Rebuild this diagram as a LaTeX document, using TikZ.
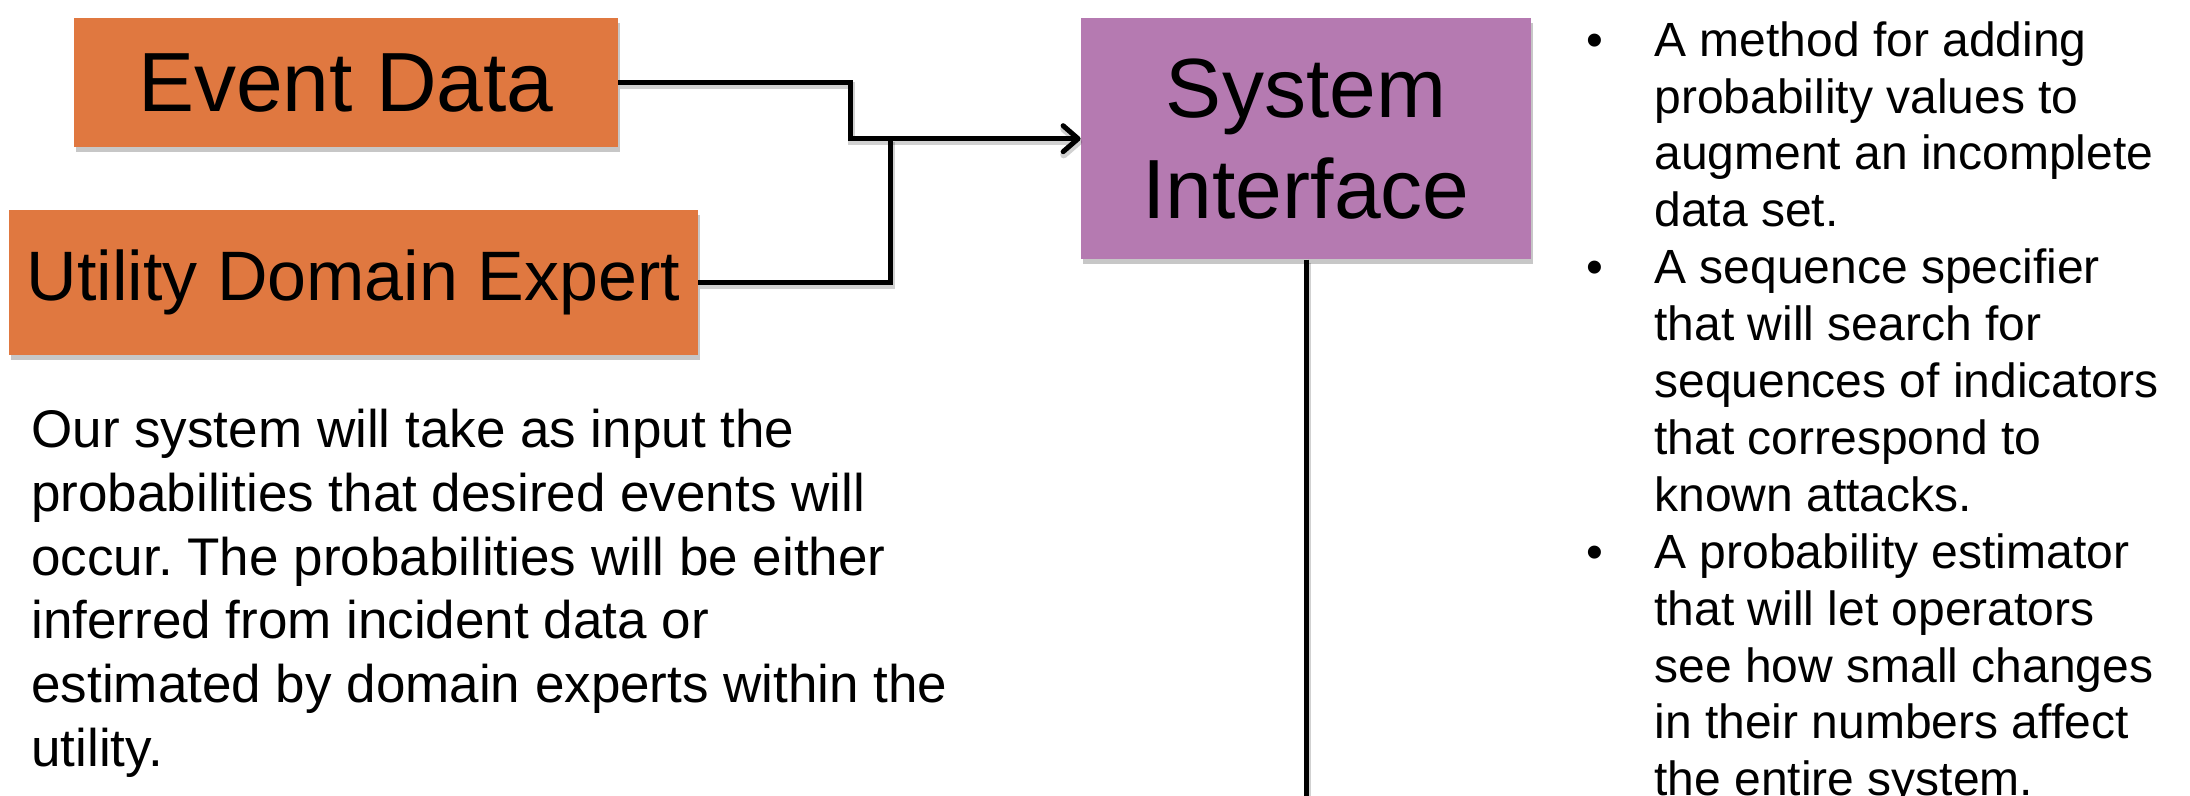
\documentclass[tikz,border=0pt]{standalone}
\usepackage{fontspec}
\setmainfont{Liberation Sans}
\usetikzlibrary{arrows.meta,shadows}
\definecolor{boxorange}{RGB}{224,120,64}
\definecolor{boxpurple}{RGB}{181,122,177}
\frenchspacing
\begin{document}
\begin{tikzpicture}[x=0.5pt,y=-0.5pt,
  boxshadow/.style={drop shadow={shadow xshift=1pt,shadow yshift=-2.5pt,opacity=0.22,fill=black}},
  inbox/.style={fill=boxorange,boxshadow,inner sep=0pt,align=center},
  sysbox/.style={fill=boxpurple,boxshadow,inner sep=0pt,align=center},
  link/.style={line width=2.5pt,draw=black,line join=miter,
    preaction={draw=black,opacity=0.18,line width=3.5pt,transform canvas={xshift=0.8pt,yshift=-1.6pt}}},
  tip/.style={-{Straight Barb[length=7.5pt,width=13pt,round]}},
  bigtext/.style={font=\fontsize{42}{50.5}\selectfont},
  bodytext/.style={anchor=north west,inner sep=0pt,align=left}
]
\useasboundingbox (0,0) rectangle (2190,796);
\fill[white] (0,0) rectangle (2190,796);

% input sources
\node[inbox,bigtext,minimum width=272pt,minimum height=64.5pt] (ed) at (346,82.7) {Event Data};
\node[inbox,font=\fontsize{35}{42}\selectfont,minimum width=344.5pt,minimum height=72.5pt] (ude) at (353.5,282.5) {Utility Domain Expert};

% central block
\node[sysbox,bigtext,minimum width=225pt,minimum height=120.5pt] (si) at (1306,138.7) {System\\Interface};

% routing points
\coordinate (elbow) at (850,82.7);
\coordinate (merge) at (890,138.7);
\coordinate (downend) at (1306,820);

% connectors
\draw[link] (ude.east) -| (merge);
\draw[link,tip] (ed.east) -- (elbow) |- (si.west);
\draw[link] (si.south) -- (si.south |- downend);

% description of inputs
\node[bodytext,font=\fontsize{26.5}{31.85}\selectfont] (intro) at (31,409)
  {Our system will take as input the\\
   probabilities that desired events will\\
   occur. The probabilities will be either\\
   inferred from incident data or\\
   estimated by domain experts within the\\
   utility.};

% feature list
\node[bodytext,font=\fontsize{24}{28.45}\selectfont] (features) at (1586,21)
  {\makebox[34pt][l]{•}A method for adding\\
   \hspace*{34pt}probability values to\\
   \hspace*{34pt}augment an incomplete\\
   \hspace*{34pt}data set.\\
   \makebox[34pt][l]{•}A sequence specifier\\
   \hspace*{34pt}that will search for\\
   \hspace*{34pt}sequences of indicators\\
   \hspace*{34pt}that correspond to\\
   \hspace*{34pt}known attacks.\\
   \makebox[34pt][l]{•}A probability estimator\\
   \hspace*{34pt}that will let operators\\
   \hspace*{34pt}see how small changes\\
   \hspace*{34pt}in their numbers affect\\
   \hspace*{34pt}the entire system.};
\end{tikzpicture}
\end{document}
